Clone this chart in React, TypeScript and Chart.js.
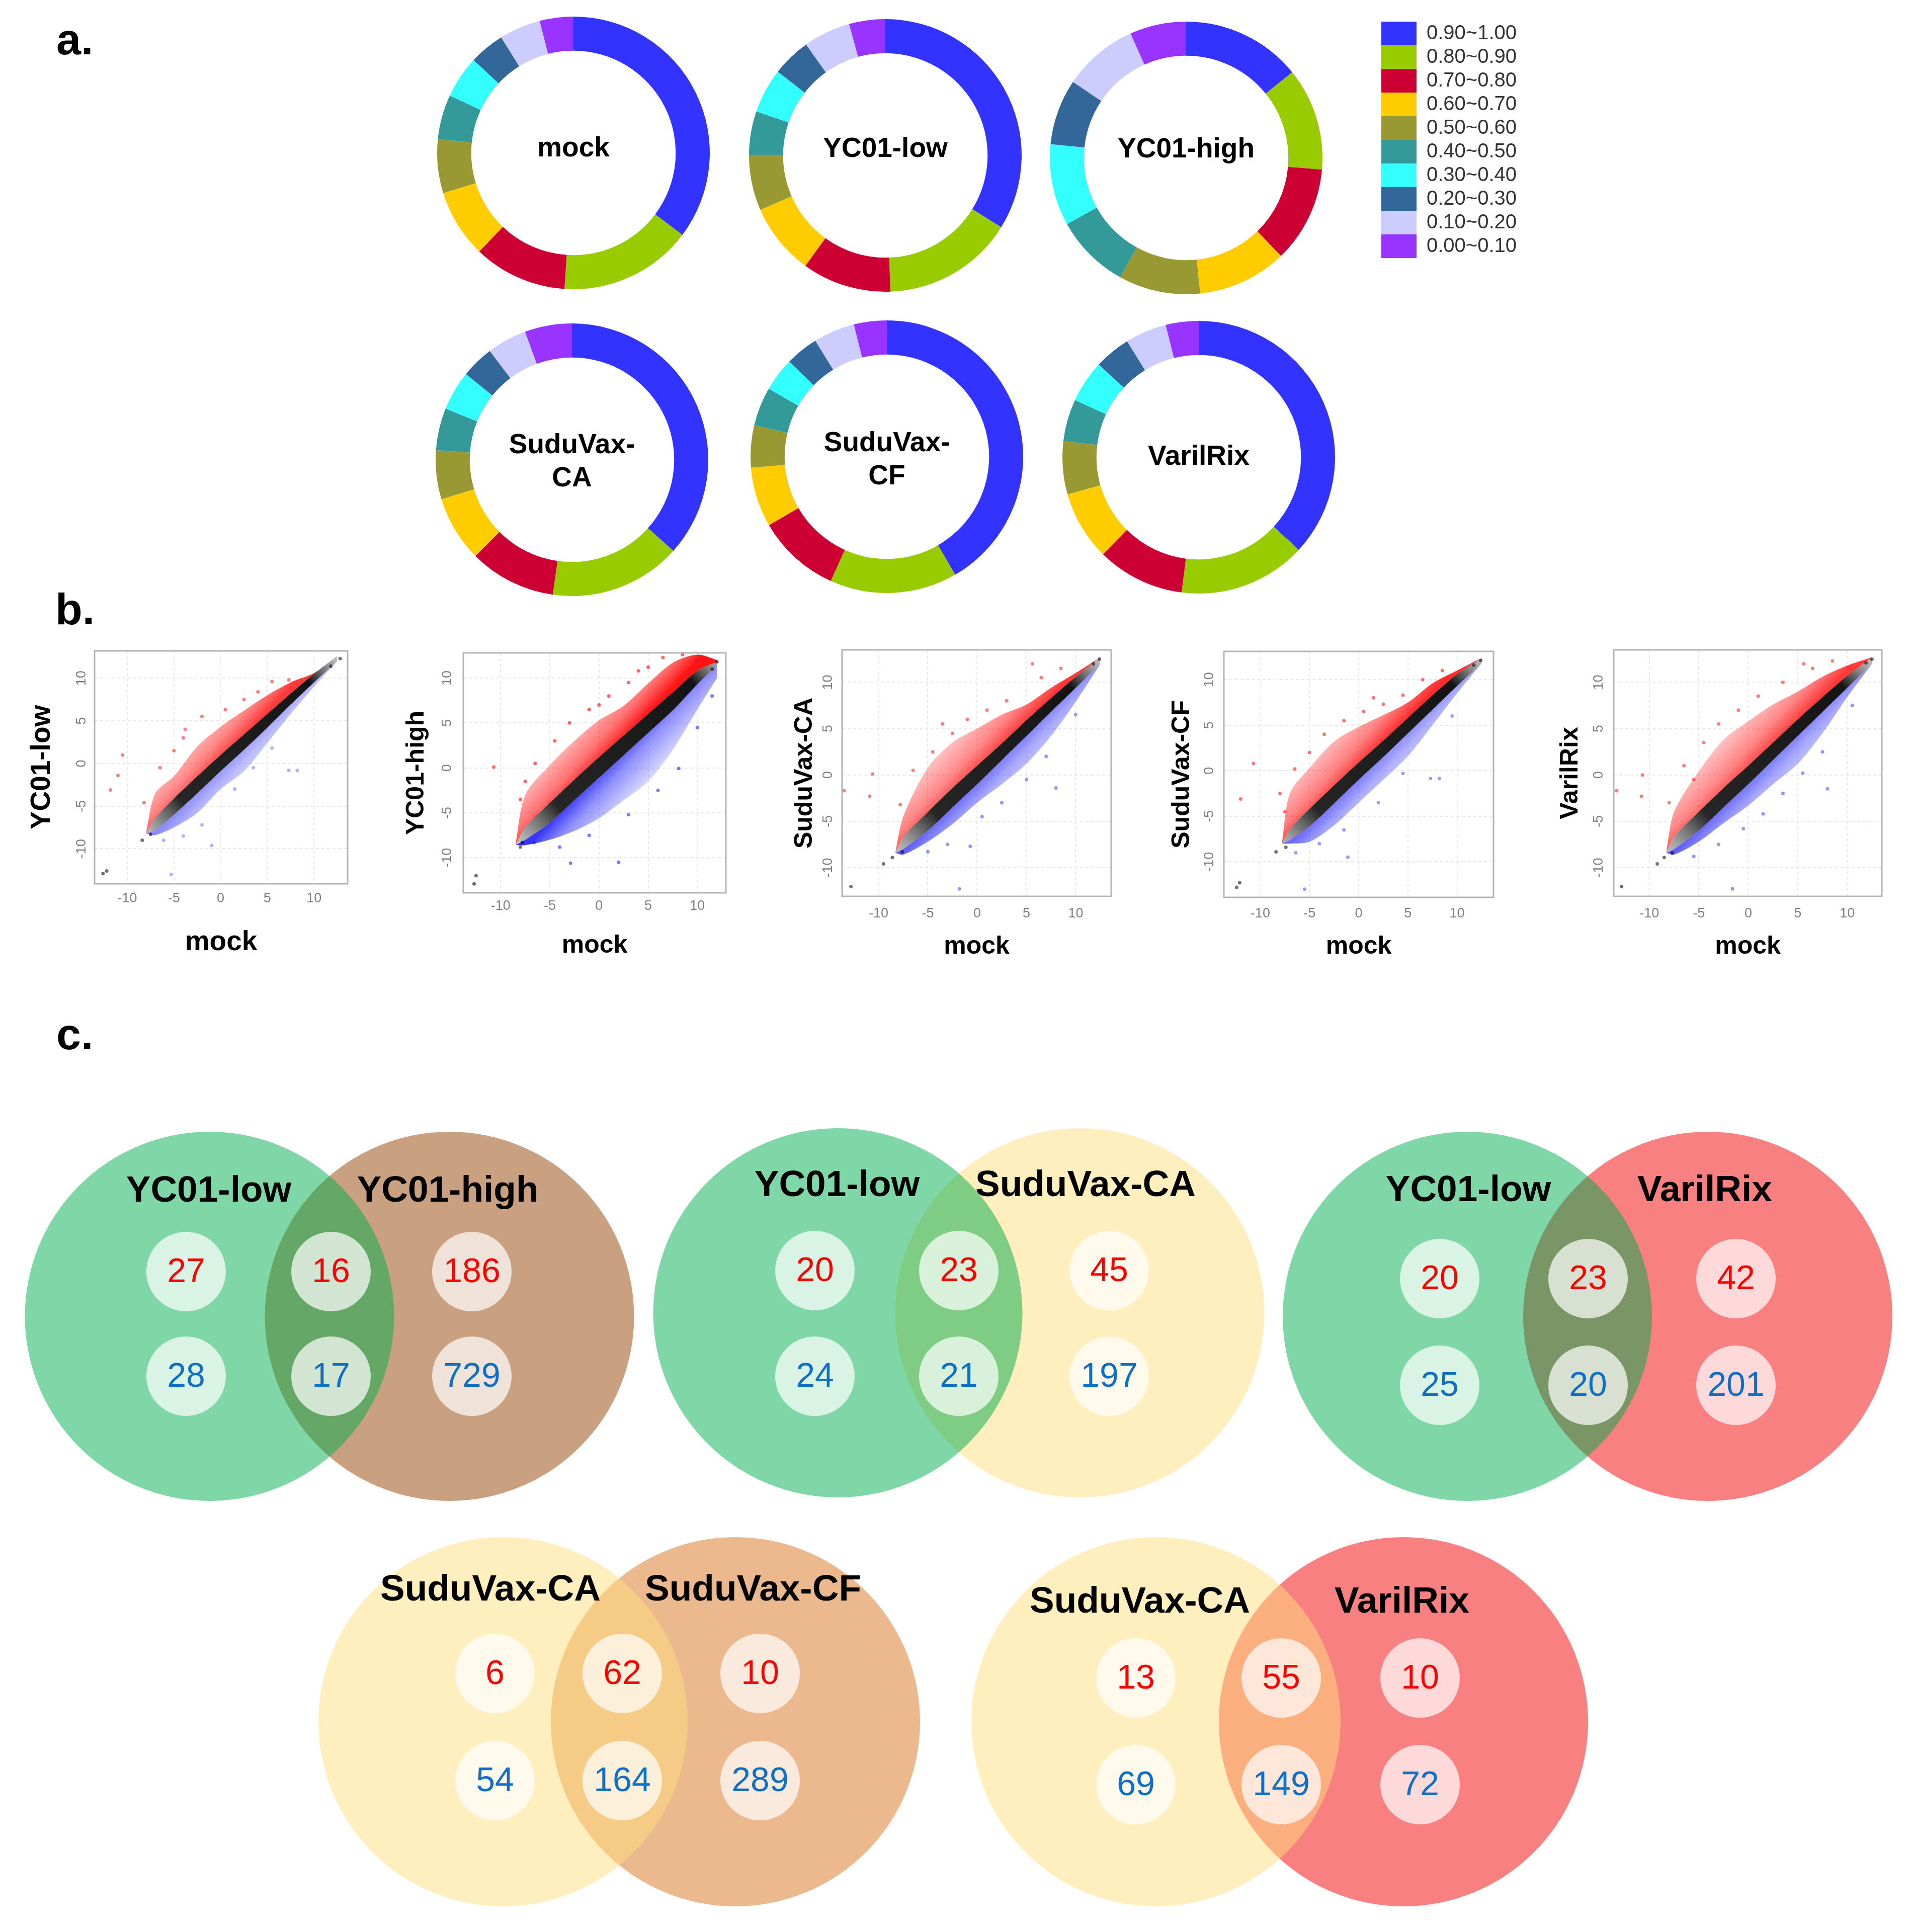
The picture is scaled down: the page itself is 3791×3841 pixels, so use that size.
import React, { useEffect, useRef } from 'react';
import { Chart, registerables } from 'chart.js';

Chart.register(...registerables);

const FONT = '"Liberation Sans", Arial, Helvetica, sans-serif';

// ---------------- a. donut charts ----------------
const rangeLabels = ['0.90~1.00', '0.80~0.90', '0.70~0.80', '0.60~0.70', '0.50~0.60', '0.40~0.50', '0.30~0.40', '0.20~0.30', '0.10~0.20', '0.00~0.10'];
const rangeColors = ['#3333ff', '#99cc00', '#cc0033', '#ffcc00', '#999933', '#339999', '#33ffff', '#336699', '#ccccff', '#9933ff'];
const donutNames = ['mock', 'YC01-low', 'YC01-high', 'SuduVax-CA', 'SuduVax-CF', 'VarilRix'];
const donutMock = [35.3, 15.8, 11.1, 8.1, 6.4, 5.3, 5.0, 4.2, 4.9, 4.0];
const donutYC01Low = [33.9, 15.6, 10.6, 8.5, 6.5, 5.3, 5.3, 4.6, 5.6, 4.3];
const donutYC01High = [14.2, 12.2, 11.4, 10.6, 9.7, 8.9, 9.7, 7.8, 8.9, 6.7];
const donutSuduCA = [36.7, 15.6, 10.3, 7.8, 5.8, 5.0, 4.7, 3.9, 4.7, 5.6];
const donutSuduCF = [41.7, 15.1, 9.9, 7.1, 5.0, 4.6, 4.0, 3.9, 4.9, 3.9];
const donutVarilRix = [36.9, 15.1, 10.4, 8.2, 6.3, 5.0, 5.0, 4.3, 4.9, 3.9];
const donutShares = [donutMock, donutYC01Low, donutYC01High, donutSuduCA, donutSuduCF, donutVarilRix];
const donutLines = [['mock'], ['YC01-low'], ['YC01-high'], ['SuduVax-', 'CA'], ['SuduVax-', 'CF'], ['VarilRix']];

// ---------------- b. scatter plots ----------------
const scatterNames = ['YC01-low', 'YC01-high', 'SuduVax-CA', 'SuduVax-CF', 'VarilRix'];
const axisTicks = [-10, -5, 0, 5, 10];
const bandX = [
  [-8, -7, -5, -2.5, 0, 2.5, 5, 7.5, 10, 12.5],
  [-8.5, -7.5, -5, -2.5, 0, 2.5, 5, 7.5, 10, 12],
  [-8.3, -7.5, -5, -2.5, 0, 2.5, 5, 7.5, 10, 12.5],
  [-7.8, -7, -5, -2.5, 0, 2.5, 5, 7.5, 10, 12.5],
  [-8.3, -7.5, -5, -2.5, 0, 2.5, 5, 7.5, 10, 12.5],
];
const bandBlackHi = [
  [-8.2, -6.4, -4.1, -1.5, 1.0, 3.4, 5.8, 8.2, 10.5, 12.6],
  [-8.6, -6.6, -3.9, -1.3, 1.2, 3.6, 6.0, 8.4, 10.8, 11.8],
  [-8.4, -6.7, -4.0, -1.4, 1.0, 3.4, 5.9, 8.3, 10.6, 12.7],
  [-8.0, -6.4, -4.2, -1.6, 0.9, 3.3, 5.8, 8.3, 10.6, 12.4],
  [-8.4, -6.7, -4.0, -1.4, 1.0, 3.5, 6.0, 8.4, 10.7, 12.7],
];
const bandBlackLo = [
  [-8.2, -7.8, -6.0, -3.5, -0.9, 1.6, 4.2, 6.9, 9.5, 12.0],
  [-8.6, -8.0, -6.1, -3.6, -1.1, 1.4, 3.9, 6.4, 9.3, 11.4],
  [-8.4, -8.0, -6.0, -3.5, -1.0, 1.6, 4.2, 6.8, 9.4, 12.0],
  [-8.0, -7.6, -6.1, -3.6, -1.0, 1.5, 4.1, 6.7, 9.3, 11.8],
  [-8.4, -8.0, -6.0, -3.5, -1.0, 1.6, 4.2, 6.8, 9.4, 12.0],
];
const bandRedHi = [
  [-8.2, -3.5, -1.5, 2.0, 4.3, 6.2, 8.0, 9.5, 10.6, 12.6],
  [-8.6, -3.0, 0.3, 3.0, 5.3, 6.9, 9.4, 11.7, 12.6, 12.0],
  [-8.4, -4.5, 0.8, 3.5, 5.0, 6.5, 7.6, 9.4, 11.0, 12.7],
  [-8.0, -2.5, 0.3, 3.2, 4.8, 6.1, 7.5, 9.6, 11.0, 12.4],
  [-8.4, -4.0, 0.4, 3.8, 5.8, 7.6, 9.0, 10.6, 11.8, 12.7],
];
const bandBlueLo = [
  [-8.2, -8.4, -7.5, -5.8, -3.0, -0.9, 2.4, 5.8, 9.0, 12.0],
  [-8.6, -8.6, -8.0, -7.0, -5.6, -3.6, -1.5, 2.0, 6.5, 10.0],
  [-8.4, -8.6, -7.2, -5.3, -3.0, -1.0, 1.2, 4.2, 7.9, 12.0],
  [-8.0, -8.0, -7.8, -6.0, -3.5, -1.0, 1.6, 5.0, 8.5, 11.8],
  [-8.4, -8.6, -7.2, -5.2, -3.3, -1.0, 1.2, 4.5, 8.4, 12.0],
];
const redPoints = [
  [[-11.8, -3.1], [-10.5, 1.0], [-11, -1.4], [-6.5, -0.5], [-5, 1.5], [-3.8, 4.0], [-2.0, 5.5], [0.5, 6.3], [2.5, 7.5], [4.0, 8.4], [5.5, 9.6], [7.3, 9.8], [-8.2, -4.6], [-4, 3]],
  [[-10.7, 0.1], [-7.5, -1.5], [-6.5, 0.5], [-4.5, 3.0], [-3, 5.0], [-1, 6.5], [1, 8.0], [3, 9.5], [5, 11.2], [6.5, 12.3], [8.5, 12.6], [-8, -3.5], [0, 7.0], [4, 10.8]],
  [[-10.6, 0.1], [-13.5, -1.7], [-10.9, -2.3], [5.6, 12.0], [-7.8, -3.2], [-6.5, 0.5], [-4.5, 2.5], [-2.5, 4.5], [-1, 6.0], [1, 7.0], [3, 8.0], [6.5, 10.5], [8.5, 11.5], [-3.5, 5.5]],
  [[-10.7, 0.8], [-12, -3.1], [-8, -2.5], [-6.5, 0.2], [-5, 2.0], [-3.5, 4.0], [-1.5, 5.5], [0.5, 6.5], [2.5, 7.3], [4.5, 8.3], [6.5, 10.0], [8.5, 11.0], [-7.5, -4.5], [1.5, 8.0]],
  [[-10.7, 0.0], [-13.3, -1.7], [5.6, 12.0], [-10.8, -2.3], [-8, -3.0], [-6.5, 1.0], [-4.5, 3.5], [-3, 5.5], [-1, 7.0], [1, 8.5], [3.5, 10.0], [6.5, 11.5], [8.5, 12.3], [-5.5, -0.5]],
];
const bluePoints = [
  [[-6.1, -9.0], [-5.3, -13.0], [-0.95, -9.6], [-4, -8.5], [7.3, -0.8], [8.2, -0.8], [1.5, -3.0], [3.5, -0.5], [-2, -7.2], [5.5, 1.8]],
  [[-2.9, -10.6], [2, -10.5], [-6.6, -8.3], [8.1, -0.06], [-4, -8.8], [-1, -7.5], [3, -5.2], [6, -2.5], [10, 4.5], [11.5, 8.0]],
  [[-1.8, -12.3], [8.0, -1.4], [-0.7, -7.7], [-5, -8.3], [-3, -7.5], [0.5, -4.5], [2.5, -3.0], [5, -0.5], [7, 2.0], [10, 6.5]],
  [[-6.4, -9.0], [-1.1, -9.5], [-5.5, -13.0], [7.3, -0.85], [8.2, -0.85], [-4, -8.0], [-1.5, -6.5], [2, -3.5], [4.5, -0.3], [9.5, 6.0]],
  [[-1.6, -12.3], [8.0, -1.5], [-5.5, -8.8], [-3, -7.5], [-0.5, -5.8], [1.5, -4.2], [3.5, -2.0], [5.5, 0.2], [7.5, 2.5], [10.5, 7.5]],
];
const blackPoints = [
  [[-12.6, -12.9], [-12.2, -12.6], [-8.4, -9.0], [-7.5, -8.3], [12.8, 12.3], [11.8, 11.4]],
  [[-12.7, -12.9], [-12.5, -12.0], [-8.0, -8.8], [11.5, 11.0], [12.0, 11.8], [-7.8, -8.3]],
  [[-12.8, -12.05], [-8.6, -8.9], [-9.5, -9.6], [12.4, 12.5], [11.8, 12.0], [-7.6, -8.3]],
  [[-12.4, -12.8], [-12.1, -12.3], [-8.4, -8.9], [12.4, 12.1], [11.7, 11.6], [-7.4, -8.4]],
  [[-12.8, -12.05], [-8.5, -8.9], [-9.2, -9.6], [12.5, 12.5], [11.9, 12.1], [-7.7, -8.4]],
];

// ---------------- c. Venn diagrams ----------------
const vennSets = [
  ['YC01-low', 'YC01-high'],
  ['YC01-low', 'SuduVax-CA'],
  ['YC01-low', 'VarilRix'],
  ['SuduVax-CA', 'SuduVax-CF'],
  ['SuduVax-CA', 'VarilRix'],
];
const vennUp = [[27, 16, 186], [20, 23, 45], [20, 23, 42], [6, 62, 10], [13, 55, 10]];
const vennDown = [[28, 17, 729], [24, 21, 197], [25, 20, 201], [54, 164, 289], [69, 149, 72]];

// ---------------- layout / style (not data) ----------------
const donutLayout = [
  { cx: 1140, cy: 304, dy: [-8] },
  { cx: 1760, cy: 309, dy: [-12] },
  { cx: 2358, cy: 314, dy: [-16] },
  { cx: 1137, cy: 914, dy: [-28, 38] },
  { cx: 1763, cy: 908, dy: [-26, 40] },
  { cx: 2383, cy: 909, dy: [0] },
];
const LEGEND_LEFT = 2746;
const LEGEND_CANVAS = { left: 1970, top: 0, width: 1100, height: 640 };
const scatterLayout = [
  { L: 188, T: 1294, R: 691, B: 1757, yTitleX: 84, xTitleY: 1874, yTickX: 163, xTickY: 1785, size: 55, xr: [-13.5, 13.6], yr: [-14.1, 13.2], red: 0.85, blue: 0.55 },
  { L: 921, T: 1298, R: 1443, B: 1775, yTitleX: 828, xTitleY: 1880, yTickX: 890, xTickY: 1800, size: 50, xr: [-13.8, 12.9], yr: [-13.9, 12.8], red: 1, blue: 0.95 },
  { L: 1674, T: 1292, R: 2209, B: 1782, yTitleX: 1600, xTitleY: 1882, yTickX: 1647, xTickY: 1815, size: 50, xr: [-13.7, 13.6], yr: [-13.1, 13.5], red: 0.85, blue: 0.75 },
  { L: 2433, T: 1295, R: 2969, B: 1784, yTitleX: 2350, xTitleY: 1882, yTickX: 2405, xTickY: 1815, size: 50, xr: [-13.7, 13.7], yr: [-13.9, 13.1], red: 0.9, blue: 0.7 },
  { L: 3208, T: 1292, R: 3741, B: 1782, yTitleX: 3122, xTitleY: 1882, yTickX: 3179, xTickY: 1815, size: 50, xr: [-13.6, 13.5], yr: [-13.1, 13.5], red: 0.85, blue: 0.75 },
];
const vennLayout = [
  { cx: 654.5, cy: 2617, half: 238.5, cols: [-285, 3, 283], rows: [-89, 119], labelY: -248, labelX: [-240, 235] },
  { cx: 1905.5, cy: 2610, half: 240.5, cols: [-286, 0, 299], rows: [-84, 126], labelY: -252, labelX: [-242, 252] },
  { cx: 3156, cy: 2617, half: 239, cols: [-294, 1, 295], rows: [-75, 137], labelY: -249, labelX: [-237, 233] },
  { cx: 1231, cy: 3423, half: 231, cols: [-247, 6, 280], rows: [-96, 117], labelY: -261, labelX: [-256, 266] },
  { cx: 2544, cy: 3423, half: 246, cols: [-286, 3, 279], rows: [-87, 125], labelY: -237, labelX: [-278, 243] },
];
const setColors: Record<string, string> = {
  'YC01-low': 'rgba(0,173,77,0.5)',
  'YC01-high': 'rgba(147,67,3,0.5)',
  'SuduVax-CA': 'rgba(255,221,125,0.5)',
  'SuduVax-CF': 'rgba(217,115,29,0.5)',
  'VarilRix': 'rgba(241,1,1,0.5)',
};
const BIG_R = 367;
const SMALL_R = 79;

// ---------------- helpers ----------------
function ChartBox({ left, top, width, height, make }: any) {
  const ref = useRef<HTMLCanvasElement>(null);
  useEffect(() => {
    const chart = new Chart(ref.current as HTMLCanvasElement, make());
    return () => chart.destroy();
  }, []);
  return (
    <canvas
      ref={ref}
      width={width}
      height={height}
      style={{ position: 'absolute', left, top, width, height }}
    />
  );
}

function centerText(lines: string[], dy: number[]) {
  return {
    id: 'centerText',
    afterDraw(chart: any) {
      const { ctx, chartArea: a } = chart;
      const cx = (a.left + a.right) / 2;
      const cy = (a.top + a.bottom) / 2;
      ctx.save();
      ctx.font = `bold 55px ${FONT}`;
      ctx.fillStyle = '#000';
      ctx.textAlign = 'center';
      ctx.textBaseline = 'middle';
      lines.forEach((l, i) => ctx.fillText(l, cx, cy + dy[i]));
      ctx.restore();
    },
  };
}

function measureLegendWidth() {
  const c = document.createElement('canvas').getContext('2d') as CanvasRenderingContext2D;
  c.font = `40px ${FONT}`;
  const w = Math.max(...rangeLabels.map((t) => c.measureText(t).width));
  return 70 + 20 + w + 10;
}

function donutConfig(i: number) {
  const withLegend = i === 2;
  let padding: any = 29;
  if (withLegend) {
    const areaW = LEGEND_LEFT - LEGEND_CANVAS.left;
    const lw = measureLegendWidth();
    padding = { left: 0, right: Math.max(0, LEGEND_CANVAS.width - areaW - lw), top: 43, bottom: 55 };
  }
  return {
    type: 'doughnut',
    data: {
      labels: rangeLabels,
      datasets: [{ label: donutNames[i], data: donutShares[i], backgroundColor: rangeColors, borderWidth: 0 }],
    },
    options: {
      responsive: false,
      animation: false,
      devicePixelRatio: 1,
      events: [],
      cutout: '75%',
      layout: { padding },
      plugins: {
        legend: withLegend
          ? {
              display: true,
              position: 'right',
              align: 'start',
              labels: {
                boxWidth: 70,
                boxHeight: 47,
                padding: 0,
                color: '#333',
                font: { family: FONT, size: 40 },
              },
            }
          : { display: false },
        tooltip: { enabled: false },
      },
    },
    plugins: [centerText(donutLines[i], donutLayout[i].dy)],
  };
}

function gradient(chart: any, p0: number[], p1: number[], stops: [number, string][]) {
  const { chartArea, scales } = chart;
  if (!chartArea || !scales.x || !scales.y) return stops[0][1];
  const g = chart.ctx.createLinearGradient(
    scales.x.getPixelForValue(p0[0]), scales.y.getPixelForValue(p0[1]),
    scales.x.getPixelForValue(p1[0]), scales.y.getPixelForValue(p1[1]),
  );
  stops.forEach(([o, c]) => g.addColorStop(o, c));
  return g;
}

const framePlugin = {
  id: 'frame',
  afterDatasetsDraw(chart: any) {
    const { ctx, chartArea: a } = chart;
    ctx.save();
    ctx.strokeStyle = '#b4b4b4';
    ctx.lineWidth = 3;
    ctx.strokeRect(a.left, a.top, a.right - a.left, a.bottom - a.top);
    ctx.restore();
  },
};

function scatterGeom(i: number) {
  const S = scatterLayout[i];
  const cL = S.yTitleX - 70;
  const cT = S.T - 50;
  const cR = S.R + 30;
  const cB = S.xTitleY + 60;
  return { left: cL, top: cT, width: cR - cL, height: cB - cT };
}

function scatterConfig(i: number) {
  const S = scatterLayout[i];
  const g = scatterGeom(i);
  const lh = S.size * 1.2;
  const yScaleLeft = S.yTitleX - lh / 2;
  const xScaleBottom = S.xTitleY + lh / 2;
  const padL = yScaleLeft - g.left;
  const yW = S.L - yScaleLeft;
  const padR = g.left + g.width - S.R;
  const padT = S.T - g.top;
  const xH = xScaleBottom - S.B;
  const padB = g.top + g.height - xScaleBottom;
  const xs = bandX[i];
  const pts = (ys: number[]) => xs.map((x, k) => ({ x, y: ys[k] }));
  const band = (ys: number[], fill: any, bg: any) => ({
    type: 'line',
    data: pts(ys),
    fill,
    backgroundColor: bg,
    borderColor: 'rgba(0,0,0,0)',
    borderWidth: 0,
    pointRadius: 0,
    tension: 0.3,
  });
  const dots = (arr: number[][], color: string) => ({
    type: 'scatter',
    data: arr.map(([x, y]) => ({ x, y })),
    backgroundColor: color,
    borderWidth: 0,
    pointRadius: 3.5,
  });
  const tickFont = { family: FONT, size: 27 };
  const titleFont = { family: FONT, size: S.size, weight: 'bold' };
  const grid = { color: '#e8e8e8', lineWidth: 2, drawTicks: false };
  return {
    type: 'scatter',
    data: {
      datasets: [
        dots(blackPoints[i], 'rgba(0,0,0,0.55)'),
        dots(redPoints[i], `rgba(255,0,0,${0.6 * S.red})`),
        dots(bluePoints[i], `rgba(20,20,255,${0.6 * S.blue})`),
        band(bandBlackHi[i], 4, (c: any) =>
          gradient(c.chart, [-8.5, -8.5], [12.7, 12.7], [
            [0, 'rgba(70,70,70,0.3)'],
            [0.2, 'rgba(0,0,0,0.85)'],
            [0.85, 'rgba(0,0,0,0.92)'],
            [1, 'rgba(90,90,90,0.3)'],
          ])),
        band(bandBlackLo[i], false, 'rgba(0,0,0,0)'),
        band(bandRedHi[i], 3, (c: any) =>
          gradient(c.chart, [0, 0], [-4.5, 4.5], [
            [0, `rgba(255,0,0,${0.92 * S.red})`],
            [0.3, `rgba(255,0,0,${0.55 * S.red})`],
            [1, `rgba(255,0,0,${0.08 * S.red})`],
          ])),
        band(bandBlueLo[i], 4, (c: any) =>
          gradient(c.chart, [0, 0], [4, -4], [
            [0, `rgba(20,20,255,${0.9 * S.blue})`],
            [0.35, `rgba(20,20,255,${0.5 * S.blue})`],
            [1, `rgba(20,20,255,${0.08 * S.blue})`],
          ])),
      ],
    },
    options: {
      responsive: false,
      animation: false,
      devicePixelRatio: 1,
      events: [],
      layout: { padding: { left: padL, right: padR, top: padT, bottom: padB }, autoPadding: false },
      plugins: { legend: { display: false }, tooltip: { enabled: false } },
      scales: {
        x: {
          type: 'linear',
          min: S.xr[0],
          max: S.xr[1],
          afterBuildTicks: (s: any) => { s.ticks = axisTicks.map((v) => ({ value: v })); },
          afterFit: (s: any) => { s.height = xH; },
          grid,
          border: { display: false, dash: [6, 5] },
          ticks: { font: tickFont, color: '#808080', padding: S.xTickY - 15 - S.B, maxRotation: 0, autoSkip: false },
          title: { display: true, text: 'mock', font: titleFont, color: '#000', padding: { top: 0, bottom: 0 } },
        },
        y: {
          type: 'linear',
          min: S.yr[0],
          max: S.yr[1],
          afterBuildTicks: (s: any) => { s.ticks = axisTicks.map((v) => ({ value: v })); },
          afterFit: (s: any) => { s.width = yW; },
          grid,
          border: { display: false, dash: [6, 5] },
          ticks: {
            font: tickFont,
            color: '#808080',
            minRotation: 90,
            maxRotation: 90,
            crossAlign: 'center',
            padding: S.L - S.yTickX - 19.5,
            autoSkip: false,
          },
          title: { display: true, text: scatterNames[i], font: titleFont, color: '#000', padding: { top: 0, bottom: 0 } },
        },
      },
    },
    plugins: [framePlugin],
  };
}

function vennConfig(i: number) {
  const V = vennLayout[i];
  const [a, b] = vennSets[i];
  const numberCircles: any[] = [];
  V.rows.forEach((ry) => V.cols.forEach((cx) => numberCircles.push({ x: cx, y: ry, r: SMALL_R })));
  const textPlugin = {
    id: 'vennText',
    afterDatasetsDraw(chart: any) {
      const { ctx, scales } = chart;
      const meta = chart.getDatasetMeta(0);
      ctx.save();
      ctx.textAlign = 'center';
      ctx.textBaseline = 'middle';
      ctx.font = `68px ${FONT}`;
      const values = [...vennUp[i], ...vennDown[i]];
      meta.data.forEach((el: any, k: number) => {
        ctx.fillStyle = k < 3 ? '#ff0000' : '#0f6fc6';
        ctx.fillText(String(values[k]), el.x, el.y + 2);
      });
      ctx.font = `bold 73px ${FONT}`;
      ctx.fillStyle = '#000';
      [a, b].forEach((name, k) => {
        ctx.fillText(name, scales.x.getPixelForValue(V.labelX[k]), scales.y.getPixelForValue(V.labelY));
      });
      ctx.restore();
    },
  };
  return {
    type: 'bubble',
    data: {
      datasets: [
        { label: 'counts', data: numberCircles, backgroundColor: 'rgba(255,255,255,0.7)', borderWidth: 0, clip: false },
        { label: a, data: [{ x: -V.half, y: 0, r: BIG_R }], backgroundColor: setColors[a], borderWidth: 0, clip: false },
        { label: b, data: [{ x: V.half, y: 0, r: BIG_R }], backgroundColor: setColors[b], borderWidth: 0, clip: false },
      ],
    },
    options: {
      responsive: false,
      animation: false,
      devicePixelRatio: 1,
      events: [],
      layout: { padding: 0, autoPadding: false },
      plugins: { legend: { display: false }, tooltip: { enabled: false } },
      scales: {
        x: { type: 'linear', min: -650, max: 650, display: false },
        y: { type: 'linear', min: -400, max: 400, reverse: true, display: false },
      },
    },
    plugins: [textPlugin],
  };
}

const panelStyle: React.CSSProperties = {
  position: 'absolute',
  font: `bold 88px ${FONT}`,
  lineHeight: '88px',
  color: '#000',
  margin: 0,
};

export default function App() {
  return (
    <div style={{ position: 'absolute', left: 0, top: 0, width: 3791, height: 3841, background: '#fff', overflow: 'hidden' }}>
      <div style={{ ...panelStyle, left: 112, top: 34 }}>a.</div>
      <div style={{ ...panelStyle, left: 110, top: 1167 }}>b.</div>
      <div style={{ ...panelStyle, left: 112, top: 2012 }}>c.</div>

      {donutNames.map((n, i) => {
        const L = donutLayout[i];
        if (i === 2) {
          return <ChartBox key={n} {...LEGEND_CANVAS} make={() => donutConfig(i)} />;
        }
        return <ChartBox key={n} left={L.cx - 300} top={L.cy - 300} width={600} height={600} make={() => donutConfig(i)} />;
      })}

      {scatterNames.map((n, i) => {
        const g = scatterGeom(i);
        return <ChartBox key={n} left={g.left} top={g.top} width={g.width} height={g.height} make={() => scatterConfig(i)} />;
      })}

      {vennSets.map((s, i) => {
        const V = vennLayout[i];
        return <ChartBox key={s.join('-')} left={V.cx - 650} top={V.cy - 400} width={1300} height={800} make={() => vennConfig(i)} />;
      })}
    </div>
  );
}
